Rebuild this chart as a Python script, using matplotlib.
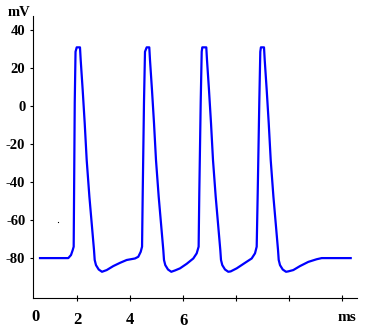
import matplotlib
matplotlib.use('Agg')
import matplotlib.pyplot as plt

# membrane potential trace (ms, mV)
t_ms = [0.604, 1.672, 1.774, 1.838, 1.875, 1.89, 1.915, 1.945, 1.989, 2.113,
        2.140, 2.215, 2.291, 2.366, 2.468, 2.566, 2.642, 2.668, 2.717, 2.819,
        2.943, 3.121, 3.370, 3.623, 3.875, 4.189, 4.313, 4.404, 4.455,
        4.48, 4.528, 4.566, 4.630, 4.728,
        4.755, 4.830, 4.906, 4.981, 5.083, 5.181, 5.257, 5.283, 5.332, 5.434,
        5.558, 5.698, 5.887, 6.140, 6.389, 6.517, 6.590,
        6.615, 6.668, 6.706, 6.728, 6.879,
        6.906, 6.981, 7.057, 7.132, 7.234, 7.332, 7.408, 7.434, 7.483, 7.585,
        7.709, 7.80, 8.026, 8.340, 8.592, 8.717, 8.781,
        8.819, 8.879, 8.917, 8.940, 9.057,
        9.084, 9.159, 9.235, 9.310, 9.412, 9.510, 9.586, 9.612, 9.661, 9.763,
        9.887, 9.97, 10.162, 10.415, 10.728, 11.045, 11.234, 12.328]
v_mV = [-80, -80, -78.4, -75.8, -74, -46, 2, 28.6, 30.9, 30.9,
        24.2, 8.4, -9, -28.4, -47.7, -63.5, -75.8, -81, -83.7, -86,
        -87.2, -86.3, -84.2, -82.5, -81, -80.2, -79.3, -76.7, -74,
        -46, 2, 28.6, 30.9, 30.9,
        24.2, 8.4, -9, -28.4, -47.7, -63.5, -75.8, -81, -83.7, -86,
        -87.2, -86.5, -85.4, -83, -80.2, -77.5, -74,
        -46, 2, 28.6, 30.9, 30.9,
        24.2, 8.4, -9, -28.4, -47.7, -63.5, -75.8, -81, -83.7, -86,
        -87.2, -87.0, -85.4, -82.5, -80.2, -77.5, -74,
        -46, 2, 28.6, 30.9, 30.9,
        24.2, 8.4, -9, -28.4, -47.7, -63.5, -75.8, -81, -83.7, -86,
        -87.2, -87.0, -86.3, -84.2, -82, -80.6, -80, -80]

# the stray dot left of the first spike
dot_t = [1.283]
dot_v = [-61]

y_ticks = [40, 20, 0, -20, -40, -60, -80]
x_ticks = [2, 4, 6, 8, 10, 12]
x_tick_labels = ['2', '4', '', '', '', '']

font = {'family': 'Liberation Serif', 'weight': 'bold'}

fig = plt.figure(figsize=(3.67, 3.30), dpi=100)
ax = fig.add_axes([33/367, 32/330, 324/367, 282/330])

ax.plot(t_ms, v_mV, color='#0000ff', lw=1.6, solid_joinstyle='round')
ax.plot(dot_t, dot_v, 's', color='black', ms=0.8, mew=0)

ax.set_xlim(0.34, 12.566)
ax.set_ylim(-101, 47.4)

ax.spines['top'].set_visible(False)
ax.spines['right'].set_visible(False)
ax.spines['left'].set_linewidth(0.8)
ax.spines['bottom'].set_linewidth(0.8)

ax.set_yticks(y_ticks)
ax.set_yticklabels([str(y) for y in y_ticks], fontdict=font, fontsize=10.5)
ax.tick_params(axis='y', direction='out', length=2.5, width=0.8, pad=3)

ax.set_xticks(x_ticks)
ax.set_xticklabels(x_tick_labels, fontdict=font, fontsize=12)
ax.tick_params(axis='x', direction='inout', length=4.5, width=0.8, pad=7.5)

tr = ax.get_xaxis_transform()
ax.text(0.445, -0.067, '0', transform=tr, ha='center', va='center', fontdict=font, fontsize=12)
ax.text(6.04, -0.080, '6', transform=tr, ha='center', va='center', fontdict=font, fontsize=12)
ax.text(12.2, -0.069, 'ms', transform=tr, ha='center', va='center', fontdict=font, fontsize=11)
ax.text(-0.043, 1.012, 'mV', transform=ax.transAxes, ha='center', va='center', fontdict=font, fontsize=10.5)

fig.savefig('out.png', dpi=100)
